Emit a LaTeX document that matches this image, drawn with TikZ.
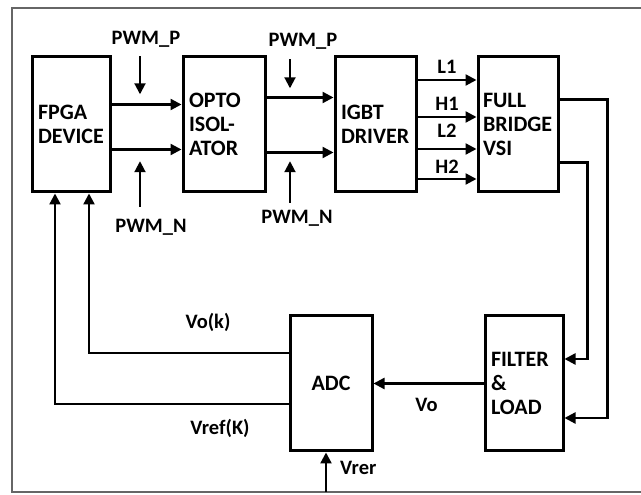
\documentclass[tikz,border=0pt]{standalone}
\usepackage{fontspec}
\setmainfont{Carlito}
\usetikzlibrary{arrows.meta,positioning,calc}

\begin{document}
\begin{tikzpicture}[
    x=1pt, y=1pt,
    font=\fontsize{22}{24}\selectfont\bfseries,
    blk/.style={draw=black, line width=3pt, rectangle, inner xsep=6pt, inner ysep=0pt, align=left, minimum height=135pt},
    lbl/.style={font=\fontsize{20.5}{22}\selectfont\bfseries, inner sep=1pt},
    sig/.style={line width=2.3pt, -{Triangle[length=11pt,width=11pt]}},
    pwm/.style={line width=2pt, -{Triangle[length=11pt,width=11pt]}},
    frame/.style={draw=black!60, line width=2.5pt}
]

\useasboundingbox (0,0) rectangle (641,495);
\draw[frame] (641,487) -- (12,487) -- (12,3) -- (641,3);

\node[blk, text width=66pt] (fpga) at (71,370.5) {FPGA\\DEVICE};
\node[blk, text width=70pt, right=70pt of fpga] (opto) {OPTO\\ISOL-\\ATOR};
\node[blk, text width=69pt, right=67pt of opto] (igbt) {IGBT\\DRIVER};
\node[blk, text width=70pt, inner xsep=5pt, right=59pt of igbt] (fb) {FULL\\BRIDGE\\VSI};
\node[blk, text width=66pt, below=121pt of fb, xshift=6pt] (filter) {FILTER\\\&\\LOAD};
\node[blk, text width=70pt, align=center, left=110pt of filter] (adc) {ADC};

\draw[sig] ([yshift=20pt]fpga.east) -- ([yshift=20pt]opto.west);
\draw[sig] ([yshift=-25pt]fpga.east) -- ([yshift=-25pt]opto.west);
\draw[sig] ([yshift=27pt]opto.east) -- ([yshift=27pt]igbt.west);
\draw[sig] ([yshift=-28pt]opto.east) -- ([yshift=-28pt]igbt.west);

\node[lbl] (pwmp_a) at (146,456) {PWM\_P};
\node[lbl] (pwmn_a) at (151,268) {PWM\_N};
\node[lbl] (pwmp_b) at (303,454) {PWM\_P};
\node[lbl] (pwmn_b) at (297,277) {PWM\_N};
\draw[pwm] (pwmp_a.south) ++(-6,-8) -- ++(0,-38);
\draw[pwm] (pwmn_a.north) ++(-11,11) -- ++(0,45.5);
\draw[pwm] (pwmp_b.south) ++(-13,-9) -- ++(0,-29);
\draw[pwm] (pwmn_b.north) ++(-7,6) -- ++(0,41.5);

\draw[sig] ([yshift=44.5pt]igbt.east) -- node[lbl, above=4pt] (l1) {L1} ([yshift=44.5pt]fb.west);
\draw[sig] ([yshift=7.5pt]igbt.east) -- node[lbl, above=4pt] (h1) {H1} ([yshift=7.5pt]fb.west);
\draw[sig] ([yshift=-24.5pt]igbt.east) -- node[lbl, above=9pt] (l2) {L2} ([yshift=-24.5pt]fb.west);
\draw[sig] ([yshift=-54.5pt]igbt.east) -- node[lbl, above=3pt] (h2) {H2} ([yshift=-54.5pt]fb.west);

\draw[sig] ([yshift=25pt]fb.east) -- ++(48,0) |- ([yshift=-34.5pt]filter.east);
\draw[sig] ([yshift=-38pt]fb.east) -- ++(28,0) |- ([yshift=24.5pt]filter.east);

\draw[sig] (filter.west) -- node[lbl, below=13pt, xshift=-2pt] (vo) {Vo} (adc.east);

\draw[sig] ([yshift=30.5pt]adc.west) -| ([xshift=18pt]fpga.south);
\draw[sig] ([yshift=-20.5pt]adc.west) -| ([xshift=-16pt]fpga.south);
\node[lbl] (vok) at (208,173) {Vo(k)};
\node[lbl] (vrefk) at (220,67) {Vref(K)};

\coordinate (vrer_in) at (326,3);
\draw[sig] (vrer_in) -- (vrer_in |- adc.south);
\node[lbl, anchor=west] (vrer) at (339,27) {Vrer};

\end{tikzpicture}
\end{document}
